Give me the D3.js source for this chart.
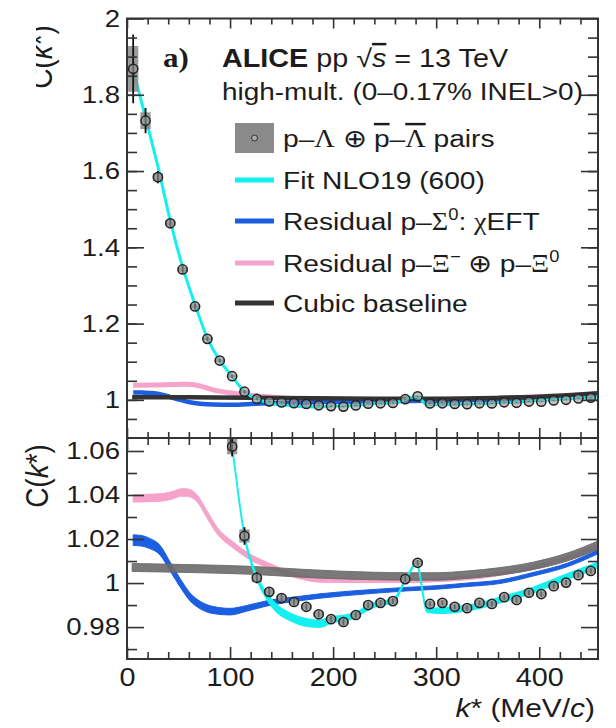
<!DOCTYPE html>
<html>
<head>
<meta charset="utf-8">
<script src="https://cdn.jsdelivr.net/npm/d3@7"></script>
<style>
  html, body { margin: 0; padding: 0; background: #fff; }
  svg { display: block; }
</style>
</head>
<body>
<svg id="chart" width="616" height="728"></svg>
<script>
// ---- p–Λ ⊕ p̄–Λ̄ correlation function, bin centres k* (MeV/c) ----
const kStar = [6, 18, 30, 42, 54, 66, 78, 90, 102, 114, 126, 138, 150, 162, 174, 186, 198, 210, 222,
  234, 246, 258, 270, 282, 294, 306, 318, 330, 342, 354, 366, 378, 390, 402, 414, 426, 438, 450];
const corrVal = [1.868, 1.732, 1.584, 1.463, 1.342, 1.245, 1.160, 1.103, 1.062, 1.0214, 1.0024, 0.9960,
  0.9932, 0.9914, 0.9892, 0.9858, 0.9836, 0.9823, 0.9855, 0.9900, 0.9910, 0.9918, 1.0018, 1.0092, 0.9905,
  0.9910, 0.9892, 0.9886, 0.9910, 0.9905, 0.9936, 0.9923, 0.9956, 0.9950, 0.9986, 1.0002, 1.0036, 1.0055];
const statErr = [0.09, 0.033, 0.016, 0.012, 0.009, 0.008, 0.006, 0.005, 0.0045, 0.004, 0.0025, 0.002,
  0.0018, 0.0016, 0.0015, 0.0015, 0.0014, 0.0014, 0.0014, 0.0013, 0.0013, 0.0013, 0.0013, 0.0013, 0.0012,
  0.0012, 0.0012, 0.0012, 0.0012, 0.0012, 0.0012, 0.0012, 0.0012, 0.0012, 0.0012, 0.0012, 0.0012, 0.0012];
const systErr = [0.06, 0.022, 0.010, 0.007, 0.006, 0.005, 0.004, 0.0035, 0.0035, 0.003, 0.002, 0.0012,
  0.0012, 0.0012, 0.0012, 0.0012, 0.0012, 0.0012, 0.0012, 0.0012, 0.0012, 0.0012, 0.0012, 0.0012, 0.0012,
  0.0012, 0.0012, 0.0012, 0.0012, 0.0012, 0.0012, 0.0012, 0.0012, 0.0012, 0.0012, 0.0012, 0.0012, 0.0012];

// ---- Fit NLO19 (600) ----
const kFit = [5, 18, 30, 42, 54, 66, 78, 90, 102, 114, 126, 136, 145, 158, 175, 187, 200, 210, 222, 233,
  245, 258, 271, 281, 291, 304, 320, 340, 362, 394, 427, 457];
const fitVal = [1.875, 1.74, 1.612, 1.47, 1.348, 1.25, 1.162, 1.103, 1.062, 1.0214, 1.0024, 0.9938, 0.9886,
  0.9847, 0.9820, 0.9815, 0.9836, 0.9840, 0.9855, 0.9886, 0.9908, 0.9918, 1.0022, 1.0090, 0.9877, 0.9875,
  0.9880, 0.9895, 0.9923, 0.9968, 1.0029, 1.0082];
const fitErr = [0.0006, 0.0006, 0.0006, 0.0006, 0.0006, 0.0006, 0.0006, 0.0006, 0.0006, 0.0006, 0.0008,
  0.0014, 0.0016, 0.0016, 0.0016, 0.0015, 0.0013, 0.0012, 0.0011, 0.0010, 0.0009, 0.0007, 0.0004, 0.0004,
  0.0008, 0.0012, 0.0012, 0.0012, 0.0012, 0.0012, 0.0012, 0.0012];

// ---- Residual p–Σ0 (χEFT) ----
const kSigma = [6, 14, 22, 32, 42, 52, 61, 71, 84, 100, 116, 136, 168, 187, 233, 270, 300, 330, 362, 394, 427, 457];
const sigmaVal = [1.0195, 1.0192, 1.0180, 1.0150, 1.0074, 0.9998, 0.9938, 0.9900, 0.9877, 0.9870, 0.9885,
  0.9908, 0.9930, 0.9941, 0.9960, 0.9972, 0.9980, 0.9992, 1.0006, 1.0040, 1.0082, 1.0142];
const sigmaErr = [0.0024, 0.0024, 0.0023, 0.0022, 0.0020, 0.0019, 0.0018, 0.0017, 0.0016, 0.0015, 0.0013,
  0.0012, 0.0010, 0.0010, 0.0009, 0.0008, 0.0008, 0.0008, 0.0008, 0.0008, 0.0008, 0.0009];

// ---- Residual p–Ξ− ⊕ p–Ξ0 ----
const kXi = [6, 30, 45, 52, 58, 68, 77, 87, 103, 119, 136, 152, 168, 187, 230, 270, 300, 340, 380, 420, 457];
const xiVal = [1.0385, 1.0388, 1.0400, 1.0411, 1.0411, 1.0385, 1.0317, 1.0241, 1.0173, 1.0120, 1.0082,
  1.0052, 1.0029, 1.0014, 1.0010, 1.0010, 1.0014, 1.0028, 1.0058, 1.0102, 1.0165];
const xiErr = [0.0017, 0.0017, 0.0017, 0.0017, 0.0017, 0.0016, 0.0016, 0.0015, 0.0014, 0.0013, 0.0012,
  0.0011, 0.0010, 0.0010, 0.0008, 0.0008, 0.0008, 0.0008, 0.0008, 0.0008, 0.0008];

// ---- Cubic baseline ----
const kBase = [5, 60, 120, 180, 240, 270, 300, 330, 360, 394, 427, 457];
const baseVal = [1.0071, 1.0066, 1.0058, 1.0042, 1.0032, 1.0030, 1.0030, 1.0038, 1.0052, 1.0078, 1.0118, 1.0172];
const baseErr = [0.0018, 0.0018, 0.0018, 0.0018, 0.0017, 0.0017, 0.0017, 0.0017, 0.0017, 0.0017, 0.0018, 0.0019];

// ---- axes ----
const xTickVals = [0, 100, 200, 300, 400];
const xTickLabels = ["0", "100", "200", "300", "400"];
const xMinorVals = d3.range(0, 457, 20);
const topTickVals = [1, 1.2, 1.4, 1.6, 1.8, 2];
const topTickLabels = ["1", "1.2", "1.4", "1.6", "1.8", "2"];
const topMinorVals = d3.range(0.95, 2.0, 0.05);
const botTickVals = [0.98, 1, 1.02, 1.04, 1.06];
const botTickLabels = ["0.98", "1", "1.02", "1.04", "1.06"];
const botMinorVals = [0.97, 0.99, 1.01, 1.03, 1.05];

const SANS = "'Liberation Sans', Arial, sans-serif";
const SERIF = "'Liberation Serif', 'Times New Roman', serif";
const SX = 1.15;               // horizontal stretch of the lettering
const INK = "#1c1c1c";
const FRAME = "#333";
const C_FIT = "#14f0f0", C_SIG = "#1b5fe0", C_XI = "#f5a3cb", C_BASE = "#333", C_BASE_BAND = "#6a6a6a";

const svg = d3.select("#chart");
const defs = svg.append("defs");

const L = 127, R = 598, T1 = 18.5, MID = 438, B2 = 659;
const x = d3.scaleLinear().domain([0, 457]).range([L, R]);
const yTop = d3.scaleLinear().domain([0.9, 2.0]).range([MID, T1]);
const yBot = d3.scaleLinear().domain([0.9655, 1.0659]).range([B2, MID]);

const zip = (ks, vs, es) => ks.map((k, i) => ({ k, v: vs[i], e: es[i] }));
const fitData = zip(kFit, fitVal, fitErr);
const sigData = zip(kSigma, sigmaVal, sigmaErr);
const xiData = zip(kXi, xiVal, xiErr);
const baseData = zip(kBase, baseVal, baseErr);
const points = kStar.map((k, i) => ({ k, v: corrVal[i], s: statErr[i], sy: systErr[i] }));

function panel(id, y, top, bottom, isTop) {
  defs.append("clipPath").attr("id", id).append("rect")
    .attr("x", L).attr("y", top).attr("width", R - L).attr("height", bottom - top);
  const g = svg.append("g").attr("clip-path", `url(#${id})`);

  const line = d3.line().x(d => x(d.k)).y(d => y(d.v)).curve(d3.curveMonotoneX);
  const area = d3.area().x(d => x(d.k)).y0(d => y(d.v - d.e)).y1(d => y(d.v + d.e)).curve(d3.curveMonotoneX);

  if (isTop) {
    g.append("path").attr("d", line(xiData)).attr("fill", "none").attr("stroke", C_XI).attr("stroke-width", 5);
    g.append("path").attr("d", line(sigData)).attr("fill", "none").attr("stroke", C_SIG).attr("stroke-width", 4.5);
    g.append("path").attr("d", line(baseData)).attr("fill", "none").attr("stroke", C_BASE).attr("stroke-width", 4.5);
    g.append("path").attr("d", line(fitData)).attr("fill", "none").attr("stroke", C_FIT).attr("stroke-width", 3);
  } else {
    const band = (data, col, op, sw) => {
      g.append("path").attr("d", area(data)).attr("fill", col).attr("fill-opacity", op)
        .attr("stroke", col).attr("stroke-opacity", op).attr("stroke-width", sw);
    };
    band(xiData, C_XI, 1, 1);
    band(sigData, C_SIG, 1, 1);
    band(baseData, C_BASE_BAND, 0.9, 1);
    band(fitData, C_FIT, 1, 1.6);
  }

  // systematic boxes
  g.selectAll("rect.sys").data(points).join("rect").attr("class", "sys")
    .attr("x", d => x(d.k - 5)).attr("width", d => x(d.k + 5) - x(d.k - 5))
    .attr("y", d => y(d.v + d.sy)).attr("height", d => y(d.v - d.sy) - y(d.v + d.sy))
    .attr("fill", "#8a8a8a").attr("fill-opacity", 0.85);
  // statistical bars
  g.selectAll("line.stat").data(points).join("line").attr("class", "stat")
    .attr("x1", d => x(d.k)).attr("x2", d => x(d.k))
    .attr("y1", d => y(d.v - d.s)).attr("y2", d => y(d.v + d.s))
    .attr("stroke", "#111").attr("stroke-width", 1.8);
  // markers
  g.selectAll("circle.pt").data(points).join("circle").attr("class", "pt")
    .attr("cx", d => x(d.k)).attr("cy", d => y(d.v)).attr("r", 4.6)
    .attr("fill", "#999").attr("fill-opacity", 0.62)
    .attr("stroke", "#222").attr("stroke-width", 1.5);

  // axes, ticks pointing inward on all four sides
  const styleAxis = sel => {
    sel.select(".domain").remove();
    sel.selectAll(".tick line").attr("stroke", FRAME).attr("stroke-width", 1.6);
  };
  const yMajor = isTop ? topTickVals : botTickVals;
  const yMinor = isTop ? topMinorVals : botMinorVals;
  const yLabels = isTop ? topTickLabels : botTickLabels;

  const left = svg.append("g").attr("transform", `translate(${L},0)`)
    .call(d3.axisLeft(y).tickValues(yMajor).tickSize(-17).tickPadding(7).tickFormat((d, i) => yLabels[i]))
    .call(styleAxis);
  left.selectAll(".tick text")
    .attr("font-family", SANS).attr("font-size", 24).attr("fill", INK)
    .attr("x", -7 / SX).attr("transform", `scale(${SX},1)`);
  svg.append("g").attr("transform", `translate(${L},0)`)
    .call(d3.axisLeft(y).tickValues(yMinor).tickSize(-10).tickFormat("")).call(styleAxis);
  svg.append("g").attr("transform", `translate(${R},0)`)
    .call(d3.axisRight(y).tickValues(yMajor).tickSize(-17).tickFormat("")).call(styleAxis);
  svg.append("g").attr("transform", `translate(${R},0)`)
    .call(d3.axisRight(y).tickValues(yMinor).tickSize(-10).tickFormat("")).call(styleAxis);

  const xMaj = isTop ? 10 : 12, xMin = isTop ? 6 : 7;
  svg.append("g").attr("transform", `translate(0,${top})`)
    .call(d3.axisTop(x).tickValues(xTickVals).tickSize(-xMaj).tickFormat("")).call(styleAxis);
  svg.append("g").attr("transform", `translate(0,${top})`)
    .call(d3.axisTop(x).tickValues(xMinorVals.filter(v => v % 100)).tickSize(-xMin).tickFormat("")).call(styleAxis);
  const bot = svg.append("g").attr("transform", `translate(0,${bottom})`)
    .call(d3.axisBottom(x).tickValues(xTickVals).tickSize(-xMaj).tickPadding(9)
      .tickFormat((d, i) => isTop ? "" : xTickLabels[i]))
    .call(styleAxis);
  bot.selectAll(".tick text")
    .attr("font-family", SANS).attr("font-size", 25).attr("fill", INK)
    .attr("transform", `scale(${SX},1)`);
  svg.append("g").attr("transform", `translate(0,${bottom})`)
    .call(d3.axisBottom(x).tickValues(xMinorVals.filter(v => v % 100)).tickSize(-xMin).tickFormat("")).call(styleAxis);

  // frame
  svg.append("rect").attr("x", L).attr("y", top).attr("width", R - L).attr("height", bottom - top)
    .attr("fill", "none").attr("stroke", FRAME).attr("stroke-width", 2);
}

panel("clipTop", yTop, T1, MID, true);
panel("clipBot", yBot, MID, B2, false);

// ---- text helpers ----
function text(x, y, size, opts = {}) {
  return svg.append("text")
    .attr("transform", `translate(${x},${y}) scale(${SX},1)`)
    .attr("font-family", opts.family || SANS).attr("font-size", size)
    .attr("font-weight", opts.weight || "normal")
    .attr("text-anchor", opts.anchor || "start")
    .attr("fill", INK);
}
function span(t, str, o = {}) {
  const s = t.append("tspan").text(str);
  if (o.family) s.attr("font-family", o.family);
  if (o.weight) s.attr("font-weight", o.weight);
  if (o.italic) s.attr("font-style", "italic");
  if (o.over) s.attr("text-decoration", "overline");
  if (o.size) s.attr("font-size", o.size);
  if (o.dy) s.attr("dy", o.dy);
  return s;
}

// y-axis titles
defs.append("clipPath").attr("id", "clipYTitle").append("rect")
  .attr("x", 36).attr("y", 0).attr("width", 60).attr("height", 120);
function yTitle(parent, cx, cy) {
  const t = parent.append("text")
    .attr("transform", `translate(${cx},${cy}) rotate(-90) scale(1,${SX})`)
    .attr("font-family", SANS).attr("font-size", 28).attr("text-anchor", "middle").attr("fill", INK);
  span(t, "C(");
  span(t, "k", { italic: true });
  span(t, "*)");
}
yTitle(svg.append("g").attr("clip-path", "url(#clipYTitle)"), 52, 57);
yTitle(svg, 48, 476);

// x-axis title
{
  const t = text(595, 717, 26, { anchor: "end" });
  span(t, "k", { italic: true });
  span(t, "* (MeV/");
  span(t, "c", { italic: true });
  span(t, ")");
}

// panel tag and header
text(163, 67, 27, { family: SERIF, weight: "bold" }).text("a)");
{
  const t = text(222, 67, 25);
  span(t, "ALICE", { weight: "bold" });
  span(t, " pp  \u221A");
  span(t, "s", { italic: true, over: true });
  span(t, " = 13 TeV");
}
text(222, 100, 24.3).text("high-mult. (0\u20130.17% INEL>0)");

// legend
const legendY = [138, 180, 221, 263, 303];
const LX0 = 235, LX1 = 274, TX = 283;
svg.append("rect").attr("x", LX0).attr("y", legendY[0] - 15).attr("width", LX1 - LX0).attr("height", 30)
  .attr("fill", "#8a8a8a");
svg.append("circle").attr("cx", (LX0 + LX1) / 2).attr("cy", legendY[0]).attr("r", 3)
  .attr("fill", "#aaa").attr("stroke", "#333").attr("stroke-width", 1);
[[C_FIT, 1], [C_SIG, 2], [C_XI, 3], [C_BASE, 4]].forEach(([c, i]) => {
  svg.append("line").attr("x1", LX0).attr("x2", LX1).attr("y1", legendY[i]).attr("y2", legendY[i])
    .attr("stroke", c).attr("stroke-width", 5);
});
const FS = 24.5;
{
  const t = text(TX, legendY[0] + 9, FS);
  span(t, "p\u2013");
  span(t, "\u039B", { family: SERIF });
  span(t, " \u2295 ");
  span(t, "p", { over: true });
  span(t, "\u2013");
  span(t, "\u039B", { family: SERIF, over: true });
  span(t, " pairs");
}
text(TX, legendY[1] + 9, FS).text("Fit NLO19 (600)");
{
  const t = text(TX, legendY[2] + 9, FS);
  span(t, "Residual p\u2013");
  span(t, "\u03A3", { family: SERIF });
  span(t, "0", { size: 16, dy: -10 });
  span(t, ": ", { dy: 10 });
  span(t, "\u03C7", { family: SERIF });
  span(t, "EFT");
}
{
  const t = text(TX, legendY[3] + 9, FS);
  span(t, "Residual p\u2013");
  span(t, "\u039E", { family: SERIF });
  span(t, "\u2212", { size: 16, dy: -10 });
  span(t, " \u2295 p\u2013", { dy: 10 });
  span(t, "\u039E", { family: SERIF });
  span(t, "0", { size: 16, dy: -10 });
}
text(TX, legendY[4] + 9, FS).text("Cubic baseline");
</script>
</body>
</html>
